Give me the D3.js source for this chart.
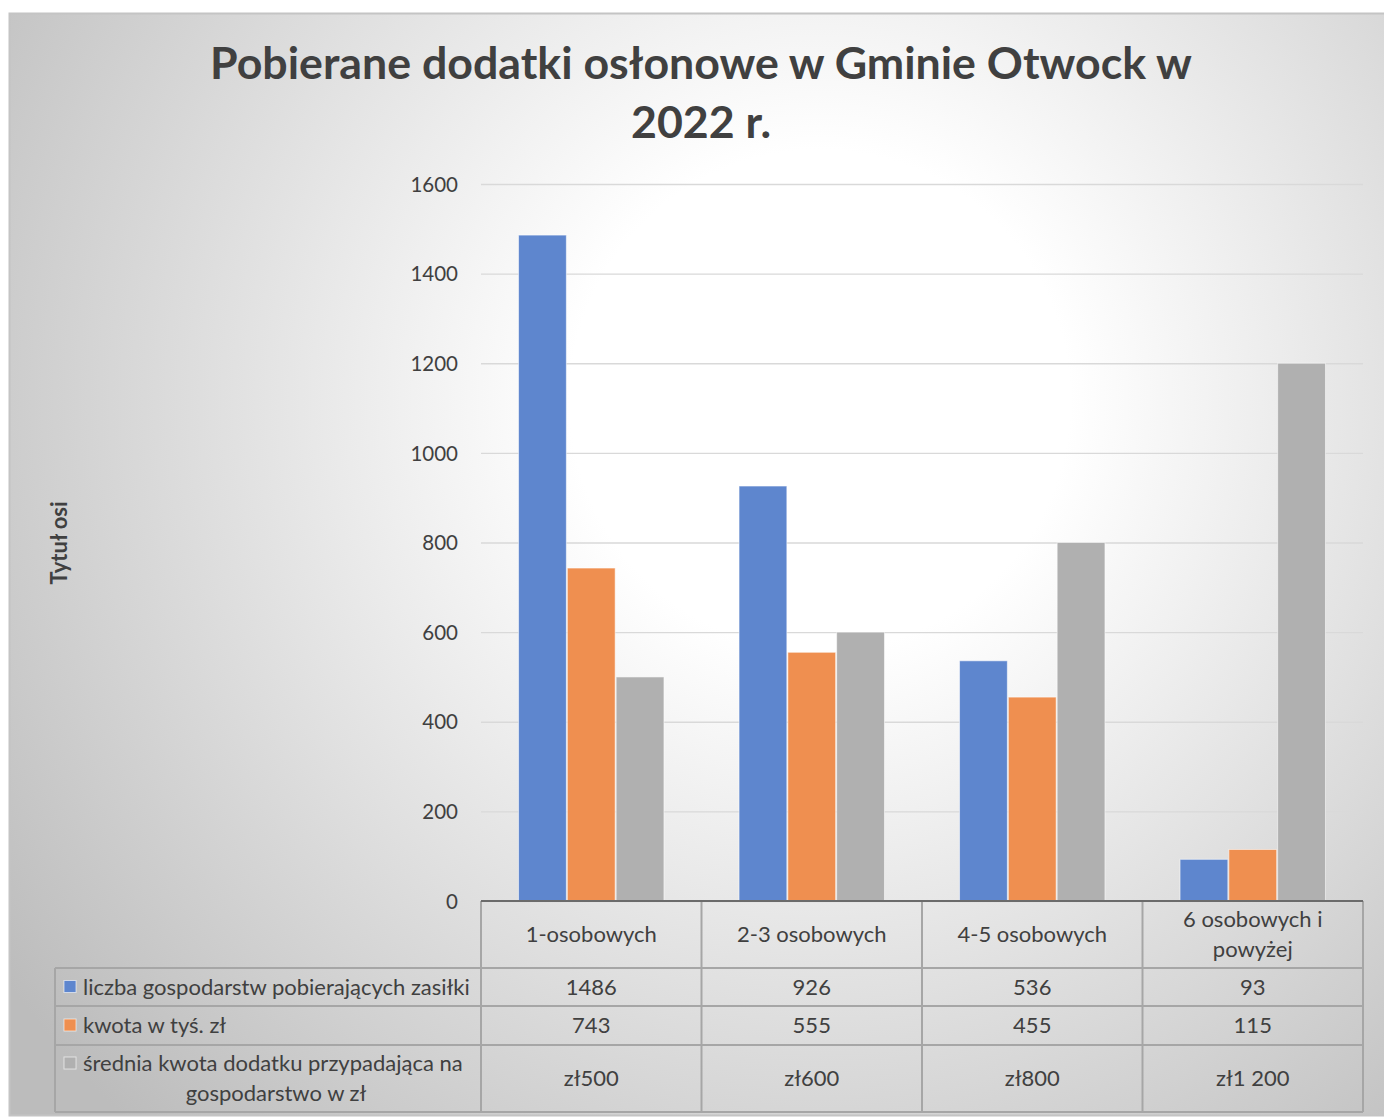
<!DOCTYPE html>
<html lang="pl">
<head>
<meta charset="UTF-8">
<title>Pobierane dodatki osłonowe w Gminie Otwock w 2022 r.</title>
<script src="https://cdnjs.cloudflare.com/ajax/libs/d3/7.8.5/d3.min.js"></script>
<style>
    body { margin: 0; background: #fff; }
    svg { display: block; font-family: Lato, "Open Sans", sans-serif; }
</style>
</head>
<body>
<svg id="chart" width="1384" height="1117"></svg>
<script>
    // data
    const categories = ["1-osobowych", "2-3 osobowych", "4-5 osobowych", "6 osobowych i powyżej"];
    const seriesNames = [
        "liczba gospodarstw pobierających zasiłki",
        "kwota w tyś. zł",
        "średnia kwota dodatku przypadająca na gospodarstwo w zł"
    ];
    const households = [1486, 926, 536, 93];
    const amounts = [743, 555, 455, 115];
    const avgAmounts = [500, 600, 800, 1200];
    const yTicks = [0, 200, 400, 600, 800, 1000, 1200, 1400, 1600];
    const colors = ["#5e86ce", "#ef8f50", "#b0b0b0"];

    const series = [households, amounts, avgAmounts];

    // how each table row prints its numbers
    const fmtPlain = d => String(d);
    const fmtZl = d => "zł" + d3.format(",")(d).replace(/,/g, " ");
    const rowFormats = [fmtPlain, fmtPlain, fmtZl];

    const svg = d3.select("#chart");
    const textColor = "#404040";

    // background with radial gradient, like the Excel style
    const defs = svg.append("defs");
    const grad = defs.append("radialGradient")
        .attr("id", "bg")
        .attr("gradientUnits", "userSpaceOnUse")
        .attr("cx", 820).attr("cy", 400).attr("r", 1000);
    grad.append("stop").attr("offset", 0).attr("stop-color", "#ffffff");
    grad.append("stop").attr("offset", 0.25).attr("stop-color", "#ffffff");
    grad.append("stop").attr("offset", 1).attr("stop-color", "#bcbcbc");

    svg.append("rect")
        .attr("x", 9.5).attr("y", 13.5)
        .attr("width", 1400).attr("height", 1102)
        .attr("fill", "url(#bg)")
        .attr("stroke", "#c4c4c4")
        .attr("stroke-width", 2);

    // plot area
    const plot = { left: 481, right: 1363, top: 184, bottom: 901 };
    const tableLeft = 55;
    const rowEdges = [901, 968, 1006, 1045, 1112];

    const x0 = d3.scaleBand()
        .domain(categories)
        .range([plot.left, plot.right])
        .padding(0);

    const x1 = d3.scaleBand()
        .domain(d3.range(seriesNames.length))
        .range([x0.bandwidth() * 0.168, x0.bandwidth() * 0.832])
        .padding(0);

    const y = d3.scaleLinear()
        .domain([0, 1600])
        .range([plot.bottom, plot.top]);

    // gridlines
    svg.append("g")
        .attr("class", "grid")
        .attr("transform", `translate(${plot.left},0)`)
        .call(d3.axisLeft(y).tickValues(yTicks).tickSize(-(plot.right - plot.left)).tickFormat(""))
        .call(g => g.select(".domain").remove())
        .call(g => g.selectAll("line").attr("stroke", "#d9d9d9").attr("stroke-width", 1.3));

    // y axis labels
    svg.append("g")
        .attr("transform", `translate(${plot.left - 23},0)`)
        .call(d3.axisLeft(y).tickValues(yTicks).tickSize(0).tickPadding(0).tickFormat(d3.format("d")))
        .call(g => g.select(".domain").remove())
        .call(g => g.selectAll("text")
            .attr("fill", textColor)
            .attr("font-size", 20.5)
            .attr("font-family", "Lato, sans-serif")
            .attr("dy", "0.35em"));

    // bars
    const groups = svg.append("g").selectAll("g")
        .data(categories)
        .join("g")
        .attr("transform", d => `translate(${x0(d)},0)`);

    groups.selectAll("rect")
        .data((c, i) => series.map((s, k) => ({ k, value: s[i] })))
        .join("rect")
        .attr("x", d => x1(d.k) + 0.5)
        .attr("y", d => y(d.value))
        .attr("width", x1.bandwidth() - 1)
        .attr("height", d => y(0) - y(d.value))
        .attr("fill", d => colors[d.k])
        .attr("stroke", "rgba(255,255,255,0.55)")
        .attr("stroke-width", 1);

    // data table
    const table = svg.append("g");
    const lineColor = "#a6a6a6";

    // horizontal lines (header row only spans the category columns)
    rowEdges.slice(1).forEach(yy => {
        table.append("line")
            .attr("x1", tableLeft)
            .attr("x2", plot.right)
            .attr("y1", yy).attr("y2", yy)
            .attr("stroke", lineColor).attr("stroke-width", 2);
    });
    // vertical lines
    const colEdges = categories.map(c => x0(c)).concat([plot.right]);
    colEdges.forEach(xx => {
        table.append("line")
            .attr("x1", xx).attr("x2", xx)
            .attr("y1", rowEdges[0]).attr("y2", rowEdges[rowEdges.length - 1])
            .attr("stroke", lineColor).attr("stroke-width", 2);
    });
    table.append("line")
        .attr("x1", tableLeft).attr("x2", tableLeft)
        .attr("y1", rowEdges[1]).attr("y2", rowEdges[rowEdges.length - 1])
        .attr("stroke", lineColor).attr("stroke-width", 2);

    // axis line on top of the table
    svg.append("line")
        .attr("x1", plot.left).attr("x2", plot.right)
        .attr("y1", plot.bottom).attr("y2", plot.bottom)
        .attr("stroke", "#6b6b6b").attr("stroke-width", 2);

    // wraps words into lines no wider than maxWidth
    function wrapLines(str, maxWidth, size) {
        const probe = svg.append("text").attr("font-size", size).attr("font-family", "Lato, sans-serif");
        const words = str.split(" ");
        const lines = [];
        let line = [];
        words.forEach(w => {
            line.push(w);
            probe.text(line.join(" "));
            if (probe.node().getComputedTextLength() > maxWidth && line.length > 1) {
                line.pop();
                lines.push(line.join(" "));
                line = [w];
            }
        });
        lines.push(line.join(" "));
        probe.remove();
        return lines;
    }

    const fs = 22;
    const lineH = 30;

    // category header row
    categories.forEach(c => {
        const lines = wrapLines(c, x0.bandwidth() - 50, fs);
        const cy = (rowEdges[0] + rowEdges[1]) / 2;
        const t = table.append("text")
            .attr("text-anchor", "middle")
            .attr("font-size", fs)
            .attr("fill", textColor);
        lines.forEach((l, j) => {
            t.append("tspan")
                .attr("x", x0(c) + x0.bandwidth() / 2)
                .attr("y", cy + (j - (lines.length - 1) / 2) * lineH)
                .attr("dy", "0.35em")
                .text(l);
        });
    });

    // value rows with legend keys
    seriesNames.forEach((name, k) => {
        const top = rowEdges[k + 1], bottom = rowEdges[k + 2];
        const cy = (top + bottom) / 2;

        const lines = wrapLines(name, plot.left - 83 - 1, fs);
        const t = table.append("text")
            .attr("font-size", fs)
            .attr("fill", textColor);
        lines.forEach((l, j) => {
            const first = j === 0;
            t.append("tspan")
                .attr("x", first ? 83 : (tableLeft + plot.left) / 2 + 8)
                .attr("text-anchor", first ? "start" : "middle")
                .attr("y", cy + (j - (lines.length - 1) / 2) * lineH)
                .attr("dy", "0.35em")
                .text(l);
        });
        // key sits at the first line
        const keyY = cy - (lines.length - 1) / 2 * lineH;
        table.append("rect")
            .attr("x", 64).attr("y", keyY - 6.5)
            .attr("width", 12).attr("height", 12)
            .attr("fill", colors[k])
            .attr("stroke", "rgba(255,255,255,0.6)")
            .attr("stroke-width", 1);

        categories.forEach((c, i) => {
            table.append("text")
                .attr("x", x0(c) + x0.bandwidth() / 2)
                .attr("y", cy)
                .attr("dy", "0.35em")
                .attr("text-anchor", "middle")
                .attr("font-size", fs)
                .attr("fill", textColor)
                .text(rowFormats[k](series[k][i]));
        });
    });

    // axis title
    svg.append("text")
        .attr("transform", "translate(67,543) rotate(-90)")
        .attr("text-anchor", "middle")
        .attr("font-size", 22)
        .attr("font-weight", "bold")
        .attr("fill", textColor)
        .text("Tytuł osi");

    // title, sized to the width of the original
    const titleLines = ["Pobierane dodatki osłonowe w Gminie Otwock w", "2022 r."];
    const title = svg.append("text")
        .attr("text-anchor", "middle")
        .attr("font-weight", "bold")
        .attr("fill", textColor)
        .attr("font-size", 40);
    titleLines.forEach((l, j) => {
        title.append("tspan")
            .attr("x", 701)
            .attr("y", 79 + j * 59)
            .text(l);
    });
    const w = title.select("tspan").node().getComputedTextLength();
    title.attr("font-size", 40 * 982 / w);
</script>
</body>
</html>
